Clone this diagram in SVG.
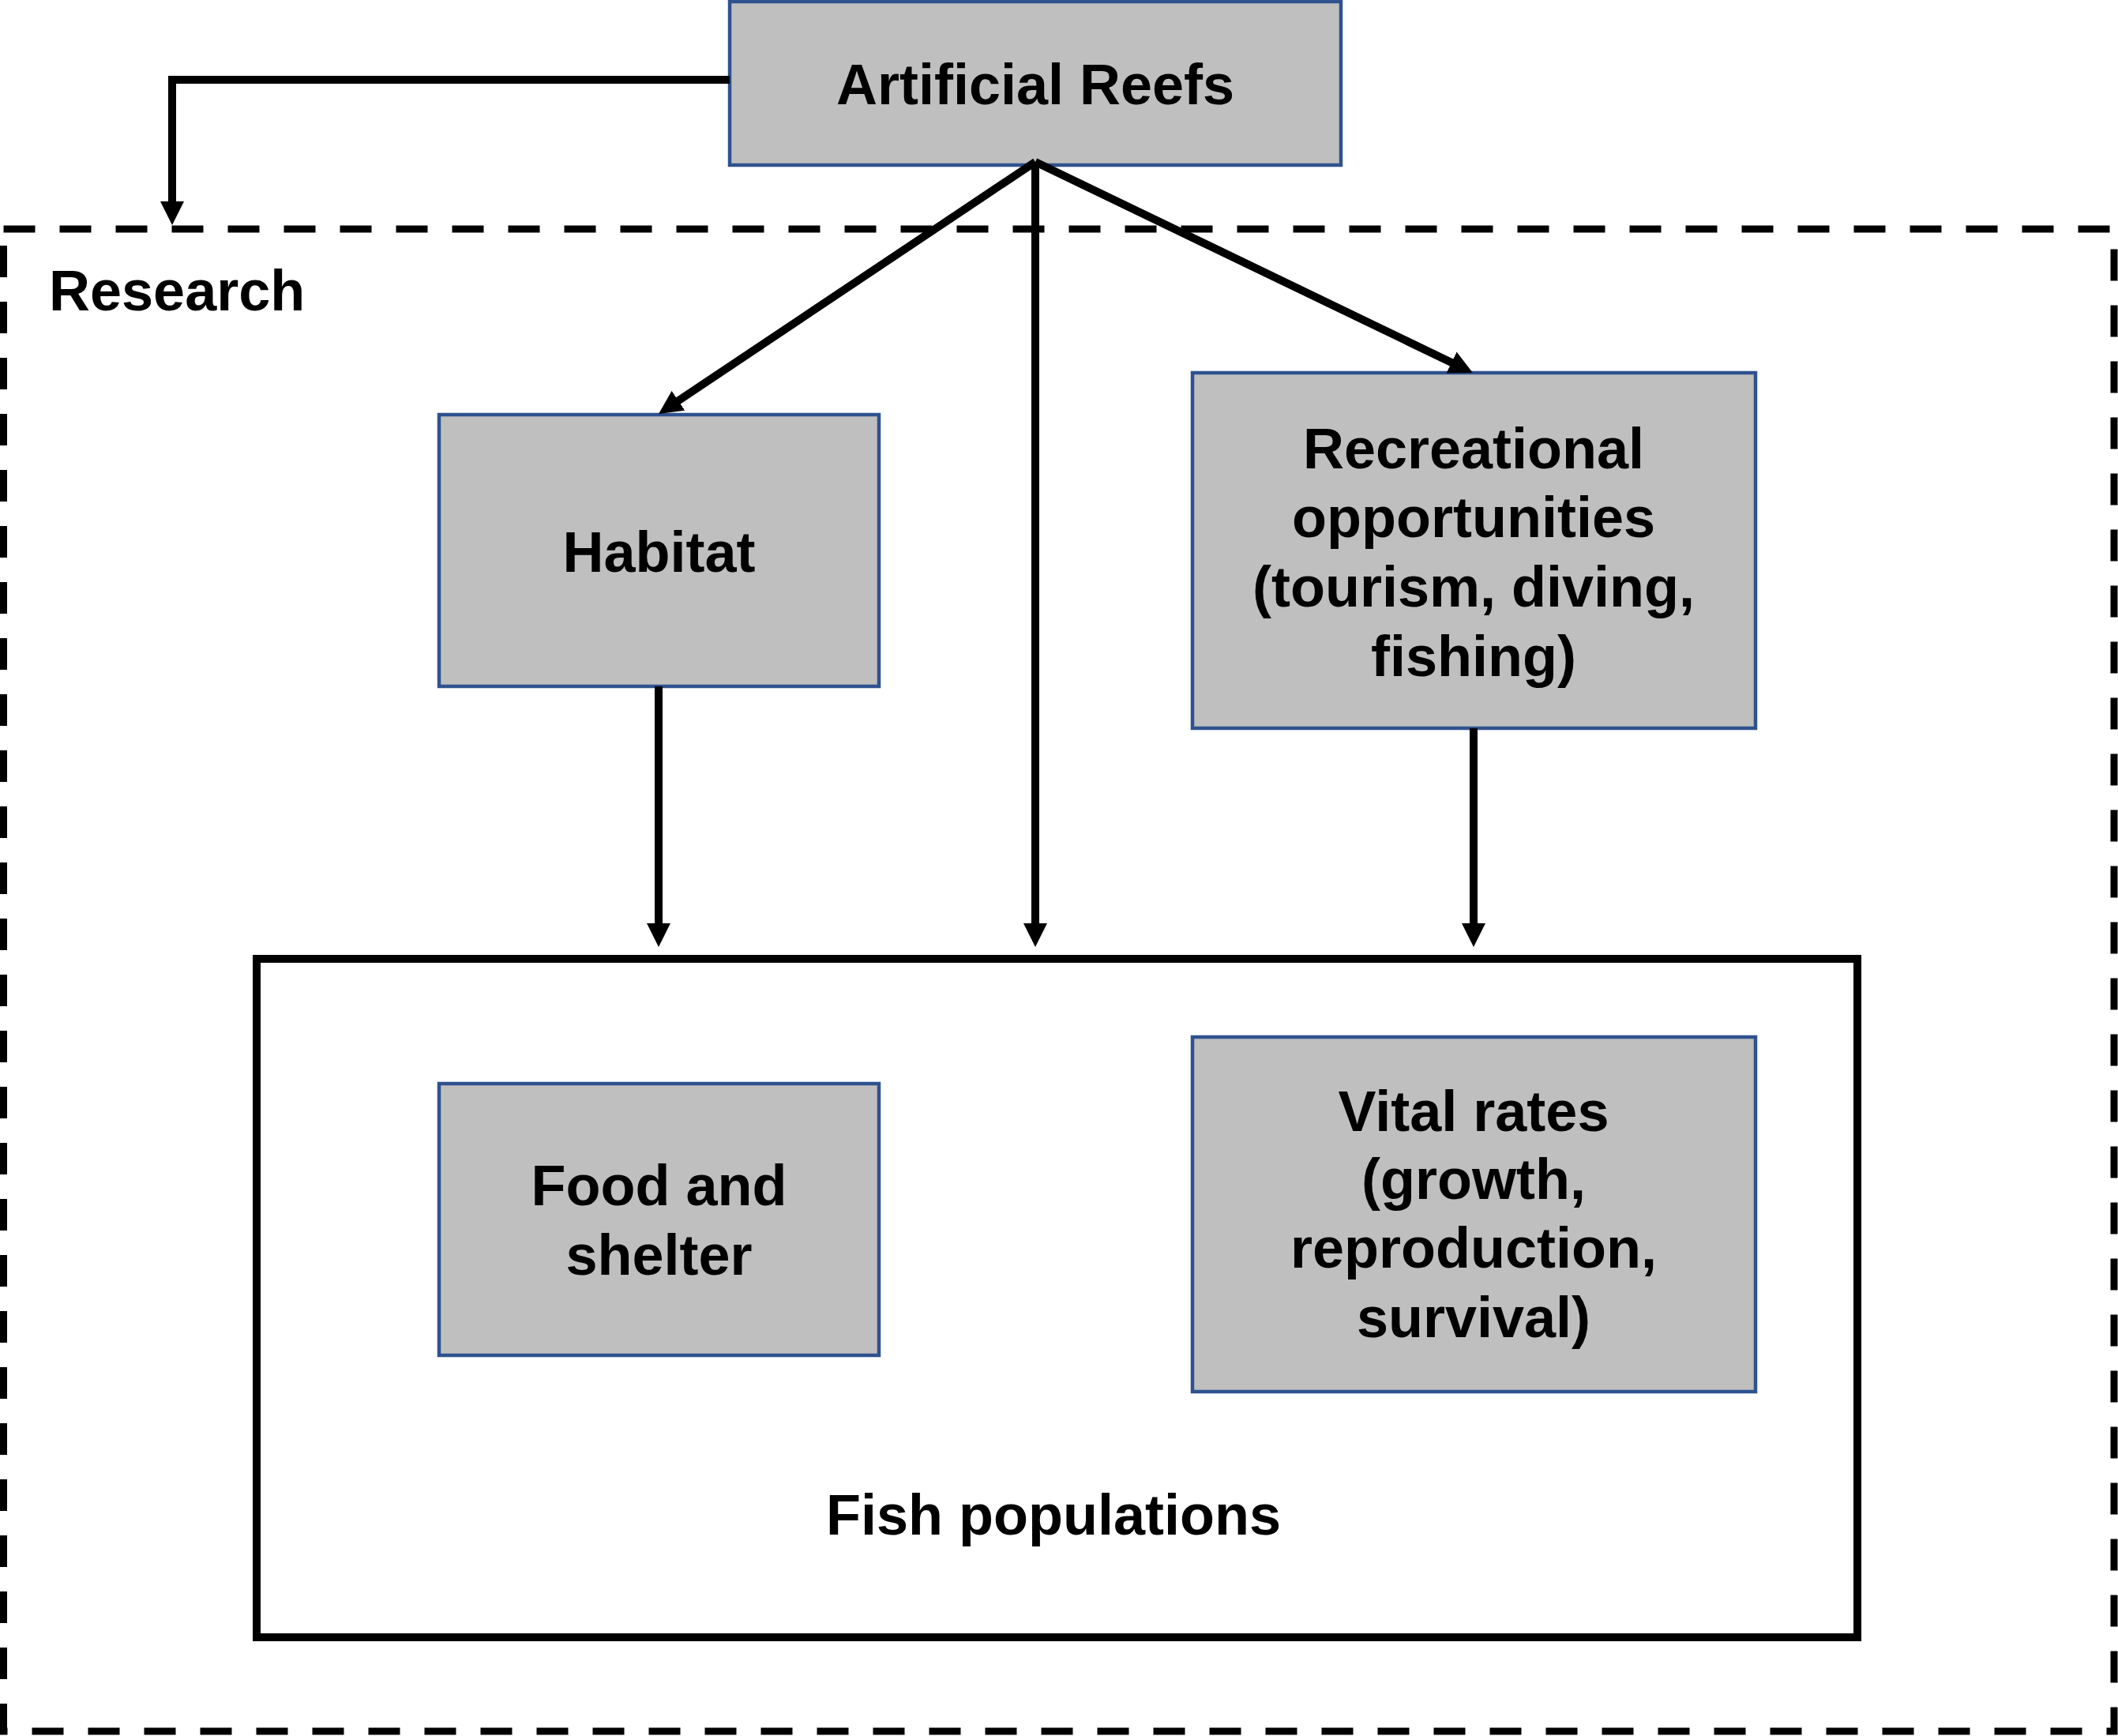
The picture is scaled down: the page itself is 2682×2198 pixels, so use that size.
<svg xmlns="http://www.w3.org/2000/svg" width="2682" height="2198" viewBox="0 0 2682 2198">
<style>
.box{fill:#BFBFBF;stroke:#2F528F;stroke-width:4.5}
.lbl{font-family:"Liberation Sans",Arial,sans-serif;font-weight:bold;font-size:72px;fill:#000;text-anchor:middle}
.con{fill:none;stroke:#000;stroke-width:10}
</style>
<defs>
<marker id="arr" markerUnits="userSpaceOnUse" markerWidth="30" markerHeight="30" refX="15" refY="15" orient="auto" viewBox="0 0 30 30">
<path d="M0,0 L30,15 L0,30 z" fill="#000"/>
</marker>
</defs>
<rect width="2682" height="2198" fill="#fff"/>
<g id="research">
<rect x="4.5" y="290" width="2672.5" height="1902" fill="none" stroke="#000" stroke-width="9" stroke-dasharray="40 31"/>
<text x="62" y="393" class="lbl" style="text-anchor:start">Research</text>
</g>
<g id="fish-populations">
<rect x="325" y="1214" width="2027" height="859" fill="none" stroke="#000" stroke-width="10"/>
<text x="1334" y="1943" class="lbl">Fish populations</text>
</g>
<g id="artificial-reefs">
<rect class="box" x="924" y="2" width="774" height="207"/>
<text x="1311" y="132" class="lbl">Artificial Reefs</text>
</g>
<g id="habitat">
<rect class="box" x="556" y="525" width="557" height="344"/>
<text x="834.5" y="724" class="lbl">Habitat</text>
</g>
<g id="recreational">
<rect class="box" x="1510" y="472" width="713" height="450"/>
<text class="lbl"><tspan x="1866" y="593">Recreational</tspan><tspan x="1866" y="680">opportunities</tspan><tspan x="1866" y="768">(tourism, diving,</tspan><tspan x="1866" y="856">fishing)</tspan></text>
</g>
<g id="food-shelter">
<rect class="box" x="556" y="1372" width="557" height="344"/>
<text class="lbl"><tspan x="834.5" y="1526">Food and</tspan><tspan x="834.5" y="1614">shelter</tspan></text>
</g>
<g id="vital-rates">
<rect class="box" x="1510" y="1313" width="713" height="449"/>
<text class="lbl"><tspan x="1866" y="1432">Vital rates</tspan><tspan x="1866" y="1518">(growth,</tspan><tspan x="1866" y="1605">reproduction,</tspan><tspan x="1866" y="1693">survival)</tspan></text>
</g>
<g id="connectors">
<path class="con" d="M924,101 H218 V270" marker-end="url(#arr)"/>
<path class="con" d="M1311,205 L846.5,515.7" marker-end="url(#arr)"/>
<path class="con" d="M1311,205 V1184" marker-end="url(#arr)"/>
<path class="con" d="M1311,205 L1851.5,465.5" marker-end="url(#arr)"/>
<path class="con" d="M834,869 V1184" marker-end="url(#arr)"/>
<path class="con" d="M1866,922 V1184" marker-end="url(#arr)"/>
</g>
</svg>
